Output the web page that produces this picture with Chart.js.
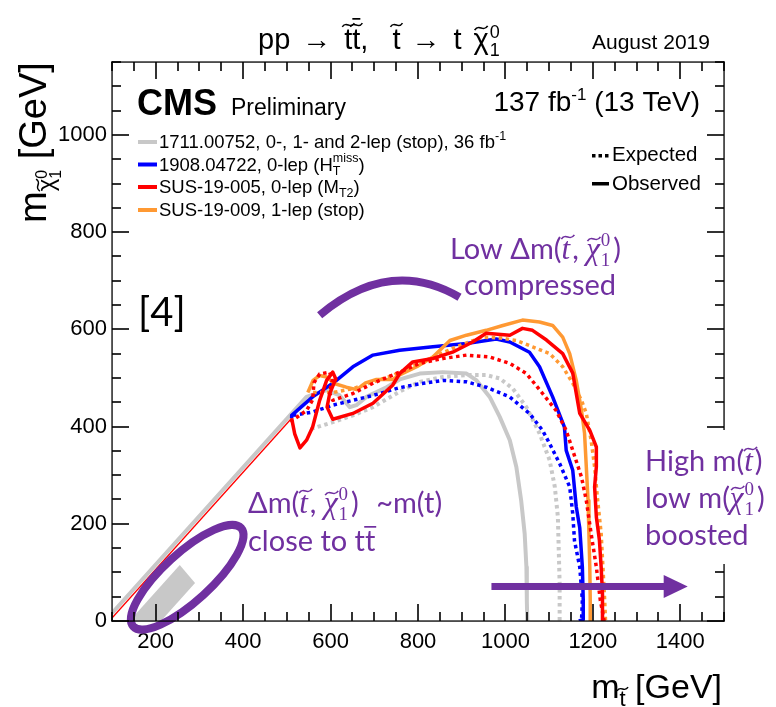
<!DOCTYPE html>
<html>
<head>
<meta charset="utf-8">
<script src="https://cdn.jsdelivr.net/npm/chart.js@4.4.1/dist/chart.umd.min.js"></script>
<style>
html,body{margin:0;padding:0;background:#fff;overflow:hidden}
canvas{display:block}
</style>
</head>
<body>
<canvas id="limites" width="776" height="707"></canvas>
<script>
// eixos
const xTicks = [200, 400, 600, 800, 1000, 1200, 1400];
const yTicks = [0, 200, 400, 600, 800, 1000];
const xMinor = [100, 150, 250, 300, 350, 450, 500, 550, 650, 700, 750, 850, 900, 950, 1050, 1100, 1150, 1250, 1300, 1350, 1450, 1500];
const yMinor = [50, 100, 150, 250, 300, 350, 450, 500, 550, 650, 700, 750, 850, 900, 950, 1050, 1100, 1150];

// contornos de exclusao [m_stop, m_lsp] em GeV
const diagLow = [[100, 6], [511, 417]];
const grayObs = [[100, 16], [522, 438], [545, 461], [591, 475], [621, 464], [644, 440], [659, 444], [682, 461], [728, 481], [758, 497], [804, 509], [857, 512], [911, 509], [934, 495], [964, 461], [987, 420], [1010, 372], [1025, 317], [1036, 248], [1044, 180], [1048, 111], [1049, 40], [1050, 0]];
const grayExp = [[555, 395], [605, 409], [651, 423], [697, 440], [758, 472], [804, 492], [857, 502], [911, 506], [956, 506], [987, 499], [1017, 478], [1048, 440], [1078, 386], [1101, 331], [1113, 276], [1120, 214], [1122, 145], [1124, 77], [1124, 0]];
const blueObs = [[511, 417], [511, 423], [559, 461], [605, 489], [651, 523], [697, 547], [758, 557], [834, 564], [911, 571], [979, 580], [1010, 574], [1055, 553], [1078, 523], [1108, 461], [1135, 399], [1139, 351], [1154, 310], [1162, 235], [1170, 192], [1176, 111], [1178, 43], [1178, 3], [1168, 0]];
const blueExp = [[514, 423], [559, 430], [605, 444], [651, 454], [697, 464], [758, 480], [804, 488], [857, 495], [911, 492], [956, 481], [1010, 461], [1055, 427], [1085, 392], [1101, 365], [1124, 324], [1147, 276], [1154, 221], [1158, 165], [1170, 111], [1176, 43], [1174, 0]];
const redObs = [[511, 417], [518, 385], [530, 356], [545, 372], [559, 399], [575, 454], [591, 495], [605, 512], [612, 498], [598, 468], [592, 440], [605, 415], [651, 427], [697, 448], [742, 485], [758, 509], [788, 533], [834, 540], [879, 553], [925, 574], [956, 592], [1010, 588], [1039, 602], [1062, 598], [1094, 578], [1131, 550], [1154, 510], [1170, 427], [1193, 392], [1208, 358], [1208, 317], [1204, 276], [1208, 214], [1215, 166], [1219, 111], [1222, 56], [1222, 0]];
const redExp = [[508, 410], [545, 433], [559, 455], [562, 490], [575, 508], [598, 512], [604, 495], [597, 470], [605, 454], [651, 468], [697, 489], [742, 506], [758, 512], [804, 530], [857, 540], [911, 547], [964, 543], [1010, 530], [1048, 509], [1085, 468], [1116, 433], [1139, 392], [1154, 351], [1174, 296], [1185, 248], [1196, 180], [1208, 111], [1217, 43], [1226, 0]];
const orangeObs = [[548, 470], [560, 495], [575, 505], [591, 502], [610, 488], [636, 481], [660, 476], [680, 490], [705, 497], [742, 497], [758, 506], [797, 523], [834, 543], [873, 577], [911, 588], [956, 598], [994, 608], [1039, 619], [1078, 615], [1108, 608], [1131, 584], [1147, 550], [1162, 495], [1174, 433], [1181, 386], [1185, 317], [1189, 248], [1191, 180], [1193, 111], [1194, 43], [1194, 0]];
const orangeExp = [[560, 470], [605, 470], [651, 478], [697, 492], [742, 505], [790, 525], [840, 545], [890, 565], [948, 584], [990, 582], [1025, 577], [1062, 564], [1101, 550], [1131, 523], [1154, 489], [1174, 454], [1185, 427], [1196, 372], [1204, 317], [1211, 248], [1219, 180], [1223, 111], [1227, 43], [1229, 0]];
// faixa cinza perto de m_top
const topBand = [[140, 0], [255, 115], [290, 78], [212, 0], [140, 0]];

// anotacoes em roxo (coordenadas em GeV)
const arcPts = [[575, 629], [735, 750], [895, 666]];
const ellipseCenter = [272, 90];
const arrowPts = [[968, 71], [1417, 71]];

const legendColors = ['#c8c8c8', '#0000ff', '#ff0000', '#ff9933'];

const SANS = '"Liberation Sans", Arial, sans-serif';
const LATO = 'Lato, sans-serif';
const SERIF = '"Liberation Serif", serif';
const ROXO = '#7030a0';

function serie(pts, cor, tracejado, largura) {
  return {
    data: pts.map(([x, y]) => ({x, y})),
    showLine: true,
    borderColor: cor,
    backgroundColor: cor,
    borderWidth: largura || 3.5,
    borderDash: tracejado ? [3.5, 3.5] : [],
    borderJoinStyle: 'round',
    pointRadius: 0,
    fill: false,
    tension: 0
  };
}

function til(ctx, cx, cy, w) {
  const h = w * 0.16;
  ctx.save();
  ctx.setLineDash([]);
  ctx.strokeStyle = ctx.fillStyle;
  ctx.lineWidth = Math.max(1.2, w * 0.13);
  ctx.beginPath();
  ctx.moveTo(cx - w / 2, cy + h);
  ctx.bezierCurveTo(cx - w / 6, cy - 2.4 * h, cx + w / 6, cy + 2.4 * h, cx + w / 2, cy - h);
  ctx.stroke();
  ctx.restore();
}

// texto com sub/sobrescritos: {t, f, dy, adv, gap, tl (altura do til), tw, bar}
function rico(ctx, x, y, partes, alinh) {
  let w = 0;
  for (const p of partes) {
    ctx.font = p.f;
    p.gw = ctx.measureText(p.t).width;
    p.w = (p.adv !== undefined ? p.adv : p.gw) + (p.gap || 0);
    w += p.w;
  }
  let cx = alinh === 'right' ? x - w : alinh === 'center' ? x - w / 2 : x;
  for (const p of partes) {
    ctx.font = p.f;
    const by = y + (p.dy || 0);
    ctx.fillText(p.t, cx, by);
    if (p.tl) til(ctx, cx + p.gw / 2 + (p.tx || 0), by - p.tl, p.tw || p.gw);
    if (p.bar) {
      ctx.fillRect(cx + p.gw / 2 - p.bar.w / 2 + (p.tx || 0), by - p.bar.h, p.bar.w, 1.7);
    }
    cx += p.w;
  }
}

// moldura e marcas dos eixos, para dentro, nos quatro lados
function moldura(chart) {
  const ctx = chart.ctx;
  const a = chart.chartArea;
  const sx = chart.scales.x, sy = chart.scales.y;
  const L = Math.round(a.left), R = Math.round(a.right), T = Math.round(a.top), B = Math.round(a.bottom);
  const marcasX = xTicks.map(v => [v, 17]).concat(xMinor.map(v => [v, 9]));
  const marcasY = yTicks.map(v => [v, 17]).concat(yMinor.map(v => [v, 9]));
  ctx.save();
  ctx.fillStyle = '#000';
  marcasX.forEach(([v, len]) => {
    const p = Math.round(sx.getPixelForValue(v));
    ctx.fillRect(p - 0.8, B - len, 1.6, len);
    ctx.fillRect(p - 0.8, T, 1.6, len);
  });
  marcasY.forEach(([v, len]) => {
    const p = Math.round(sy.getPixelForValue(v));
    ctx.fillRect(L, p - 0.8, len, 1.6);
    ctx.fillRect(R - len, p - 0.8, len, 1.6);
  });
  ctx.fillRect(L - 0.6, T - 0.6, R - L + 1.2, 1.3);
  ctx.fillRect(L - 0.6, B - 0.6, R - L + 1.2, 1.3);
  ctx.fillRect(L - 0.6, T - 0.6, 1.3, B - T + 1.2);
  ctx.fillRect(R - 0.6, T - 0.6, 1.3, B - T + 1.2);
  ctx.restore();
}

const anotacoesPlugin = {
  id: 'anotacoes',
  afterDatasetsDraw(chart) {
    const {ctx, scales: {x, y}} = chart;
    const px = v => x.getPixelForValue(v[0]);
    const py = v => y.getPixelForValue(v[1]);
    ctx.save();
    ctx.setLineDash([]);
    ctx.strokeStyle = ROXO;
    ctx.fillStyle = ROXO;
    ctx.lineWidth = 8;
    ctx.beginPath();
    ctx.moveTo(px(arcPts[0]), py(arcPts[0]));
    ctx.quadraticCurveTo(px(arcPts[1]), py(arcPts[1]), px(arcPts[2]), py(arcPts[2]));
    ctx.stroke();

    ctx.beginPath();
    ctx.ellipse(px(ellipseCenter), py(ellipseCenter), 73, 24, -0.74, 0, Math.PI * 2);
    ctx.stroke();

    const ax0 = px(arrowPts[0]), ax1 = px(arrowPts[1]), ay = py(arrowPts[0]);
    ctx.fillRect(ax0, ay - 3.5, ax1 - ax0 - 22, 7);
    ctx.beginPath();
    ctx.moveTo(ax1, ay);
    ctx.lineTo(ax1 - 24, ay - 11.5);
    ctx.lineTo(ax1 - 24, ay + 11.5);
    ctx.closePath();
    ctx.fill();
    ctx.restore();
  }
};

const textosPlugin = {
  id: 'textos',
  afterDraw(chart) {
    const ctx = chart.ctx;
    moldura(chart);

    ctx.save();
    ctx.setLineDash([]);
    ctx.fillStyle = '#000';
    ctx.textBaseline = 'alphabetic';
    ctx.textAlign = 'left';

    // titulo
    const T = '29px ' + SANS, s = '18px ' + SANS;
    rico(ctx, 258, 49, [
      {t: 'pp', f: T, gap: 12},
      {t: '\u2192', f: T, gap: 13},
      {t: 't', f: T, tl: 24, tw: 12},
      {t: 't', f: T, tl: 24, tw: 12, bar: {w: 8, h: 31}},
      {t: ',', f: T, gap: 24},
      {t: 't', f: T, tl: 24, tw: 12, gap: 11},
      {t: '\u2192', f: T, gap: 13},
      {t: 't', f: T, gap: 12},
      {t: '\u03c7', f: T, tl: 21, tw: 13, gap: 1},
      {t: '0', f: s, dy: -11, adv: 0},
      {t: '1', f: s, dy: 7}
    ]);
    ctx.font = '21px ' + SANS;
    ctx.fillText('August 2019', 592, 49);

    // CMS
    ctx.font = 'bold 36px ' + SANS;
    ctx.fillText('CMS', 137, 115);
    ctx.font = '23px ' + SANS;
    ctx.fillText('Preliminary', 231, 115);
    rico(ctx, 700, 111, [
      {t: '137 fb', f: '28px ' + SANS},
      {t: '-1', f: '17px ' + SANS, dy: -11},
      {t: ' (13 TeV)', f: '28px ' + SANS}
    ], 'right');

    // legenda
    const L = '18.5px ' + SANS, l = '12.5px ' + SANS;
    const linhas = [
      [{t: '1711.00752, 0-, 1- and 2-lep (stop), 36 fb', f: L}, {t: '-1', f: l, dy: -8}],
      [{t: '1908.04722, 0-lep (H', f: L}, {t: 'T', f: l, dy: 4, adv: 0}, {t: 'miss', f: l, dy: -9}, {t: ')', f: L}],
      [{t: 'SUS-19-005, 0-lep (M', f: L}, {t: 'T2', f: l, dy: 4}, {t: ')', f: L}],
      [{t: 'SUS-19-009, 1-lep (stop)', f: L}]
    ];
    const baseLeg = [148, 170.5, 193, 216];
    linhas.forEach((partes, i) => {
      ctx.fillStyle = legendColors[i];
      ctx.fillRect(138, baseLeg[i] - 8, 19, 4);
      ctx.fillStyle = '#000';
      rico(ctx, 159, baseLeg[i], partes);
    });

    ctx.font = '20.5px ' + SANS;
    ctx.fillText('Expected', 612, 161);
    ctx.fillText('Observed', 612, 189.5);
    ctx.fillRect(592, 154, 3.5, 3.5);
    ctx.fillRect(598.5, 154, 3.5, 3.5);
    ctx.fillRect(605, 154, 3.5, 3.5);
    ctx.fillRect(592, 182, 17, 3.5);

    // titulos dos eixos
    const A = '34px ' + SANS, a = '22px ' + SANS;
    rico(ctx, 722, 698, [
      {t: 'm', f: A},
      {t: 't', f: a, dy: 8, tl: 17, tw: 11},
      {t: ' [GeV]', f: A}
    ], 'right');
    const Ay = '38px ' + SANS, ay = '24px ' + SANS, ay2 = '16px ' + SANS;
    ctx.save();
    ctx.translate(46, 223);
    ctx.rotate(-Math.PI / 2);
    rico(ctx, 0, 0, [
      {t: 'm', f: Ay},
      {t: '\u03c7', f: ay, dy: 8, tl: 16, tw: 12},
      {t: '0', f: ay2, dy: 1, adv: 0},
      {t: '1', f: ay2, dy: 15},
      {t: ' [GeV]', f: Ay}
    ]);
    ctx.restore();

    // anotacoes
    ctx.font = '40px ' + LATO;
    ctx.fillText('[4]', 138, 326);

    ctx.fillStyle = ROXO;
    const P = '29px ' + LATO, I = 'italic 31px ' + SERIF, n = '19px ' + SERIF;
    const par = () => [
      {t: 't', f: I, tl: 22, tw: 13, tx: 2, gap: 2},
      {t: ', ', f: P},
      {t: '\u03c7', f: I, tl: 20, tw: 13, tx: 1, gap: 1},
      {t: '0', f: n, dy: -13, adv: 0},
      {t: '1', f: n, dy: 7, gap: 3}
    ];
    rico(ctx, 450, 259, [{t: 'Low \u0394m(', f: P}, ...par(), {t: ')', f: P}]);
    ctx.font = P;
    ctx.fillText('compressed', 464, 295);

    rico(ctx, 248, 513, [{t: '\u0394m(', f: P}, ...par(), {t: ')', f: P, gap: 10}, {t: ' ~m(t)', f: P}]);
    rico(ctx, 248, 551, [
      {t: 'close to t', f: P},
      {t: 't', f: P, bar: {w: 12, h: 25}}
    ]);

    // caixa de texto com fundo branco sobre a borda direita
    ctx.fillStyle = '#fff';
    ctx.fillRect(636, 430, 140, 134);
    ctx.fillStyle = ROXO;
    rico(ctx, 645, 471, [{t: 'High m(', f: P}, {t: 't', f: I, tl: 22, tw: 13, tx: 2, gap: 2}, {t: ')', f: P}]);
    rico(ctx, 645, 508, [
      {t: 'low m(', f: P},
      {t: '\u03c7', f: I, tl: 20, tw: 13, tx: 1, gap: 1},
      {t: '0', f: n, dy: -13, adv: 0},
      {t: '1', f: n, dy: 7, gap: 3},
      {t: ')', f: P}
    ]);
    ctx.font = P;
    ctx.fillText('boosted', 645, 545);
    ctx.restore();
  }
};

const faixa = {
  data: topBand.map(([x, y]) => ({x, y})),
  showLine: true,
  borderWidth: 0,
  borderColor: 'rgba(0,0,0,0)',
  backgroundColor: '#c8c8c8',
  pointRadius: 0,
  fill: 'shape'
};

new Chart(document.getElementById('limites'), {
  type: 'scatter',
  data: {
    datasets: [
      serie(redObs, '#ff0000', false),
      serie(redExp, '#ff0000', true),
      serie(orangeObs, '#ff9933', false),
      serie(orangeExp, '#ff9933', true),
      serie(blueObs, '#0000ff', false),
      serie(blueExp, '#0000ff', true),
      serie(diagLow, '#ff0000', false, 1.3),
      serie(grayObs, '#c8c8c8', false, 4),
      serie(grayExp, '#c8c8c8', true, 4),
      faixa
    ]
  },
  options: {
    responsive: false,
    animation: false,
    layout: {padding: {left: 0, top: 62, right: 52, bottom: 0}},
    plugins: {legend: {display: false}, tooltip: {enabled: false}},
    scales: {
      x: {
        type: 'linear', min: 100, max: 1500,
        afterBuildTicks: s => { s.ticks = xTicks.map(v => ({value: v})); },
        afterFit: s => { s.height = 86; },
        grid: {display: false, drawTicks: false},
        border: {display: false},
        ticks: {color: '#000', font: {family: SANS, size: 22}, padding: 8, maxRotation: 0, callback: v => String(v)}
      },
      y: {
        type: 'linear', min: 0, max: 1150,
        afterBuildTicks: s => { s.ticks = yTicks.map(v => ({value: v})); },
        afterFit: s => { s.width = 112; },
        grid: {display: false, drawTicks: false},
        border: {display: false},
        ticks: {color: '#000', font: {family: SANS, size: 22}, padding: 5, callback: v => String(v)}
      }
    }
  },
  plugins: [anotacoesPlugin, textosPlugin]
});
</script>
</body>
</html>
